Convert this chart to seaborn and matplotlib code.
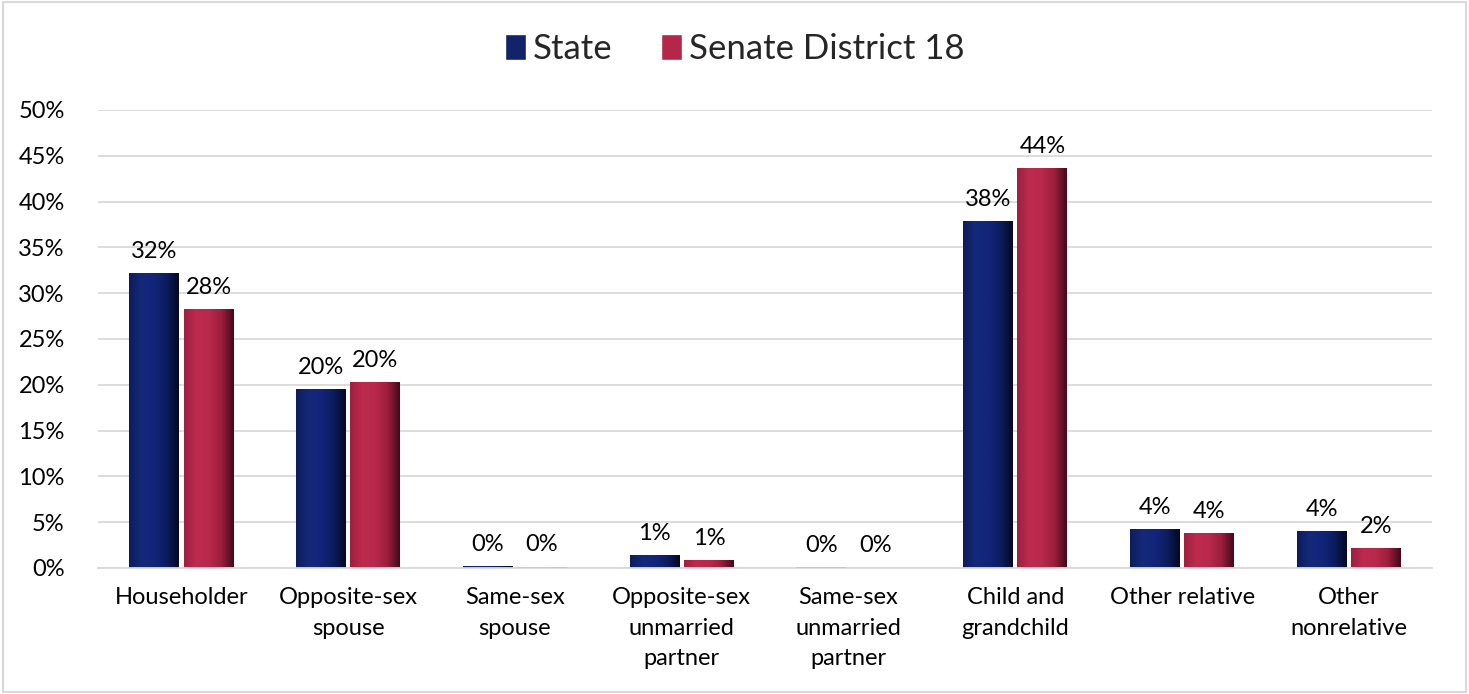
import numpy as np
import pandas as pd
import matplotlib
matplotlib.use("Agg")
import matplotlib.pyplot as plt
import seaborn as sns
from matplotlib.patches import Rectangle
from matplotlib.colors import LinearSegmentedColormap

categories = ["Householder", "Opposite-sex\nspouse", "Same-sex\nspouse",
              "Opposite-sex\nunmarried\npartner", "Same-sex\nunmarried\npartner",
              "Child and\ngrandchild", "Other relative", "Other\nnonrelative"]
state = [0.322, 0.195, 0.002, 0.014, 0.001, 0.379, 0.0425, 0.040]
senate = [0.283, 0.203, 0.0015, 0.009, 0.0005, 0.437, 0.038, 0.022]
series_names = ["State", "Senate District 18"]
labels_state = ["32%", "20%", "0%", "1%", "0%", "38%", "4%", "4%"]
labels_senate = ["28%", "20%", "0%", "1%", "0%", "44%", "4%", "2%"]
yticks = [0, 0.05, 0.10, 0.15, 0.20, 0.25, 0.30, 0.35, 0.40, 0.45, 0.50]

df = pd.DataFrame({
    "category": categories * 2,
    "value": state + senate,
    "series": [series_names[0]] * len(categories) + [series_names[1]] * len(categories),
})

sns.set_theme(style="white")
plt.rcParams["font.family"] = ["Lato", "DejaVu Sans"]

fig = plt.figure(figsize=(14.69, 6.94), dpi=100)
ax = fig.add_axes([0.0667, 0.1816, 0.975 - 0.0667, 0.8415 - 0.1816])

colors = {"State": "#12236a", "Senate District 18": "#b5264a"}
sns.barplot(data=df, x="category", y="value", hue="series", palette=colors,
            width=0.65, gap=0.08, ax=ax, legend=False, saturation=1,
            edgecolor="none")

# gradient shading for 3D-like bars
grad_cmaps = {
    "State": LinearSegmentedColormap.from_list("s", ["#0d1c5c", "#15297a", "#12257a", "#0c1d5e", "#040926"]),
    "Senate District 18": LinearSegmentedColormap.from_list("d", ["#9e2040", "#bd2b4d", "#b8294b", "#9d1f3d", "#45091a"]),
}
grad = np.linspace(0, 1, 64).reshape(1, -1)
for container, name in zip(ax.containers, series_names):
    for patch in container:
        x0, y0 = patch.get_x(), patch.get_y()
        w, h = patch.get_width(), patch.get_height()
        if h <= 0:
            continue
        im = ax.imshow(grad, cmap=grad_cmaps[name], aspect="auto",
                       extent=[x0, x0 + w, y0, y0 + h], zorder=patch.get_zorder() + 0.1)
        im.set_clip_path(patch)

ax.set_xlim(-0.5, len(categories) - 0.5)
ax.set_ylim(0, 0.5)
ax.set_yticks(yticks)
ax.set_yticklabels([f"{int(round(t*100))}%" for t in yticks], fontsize=17)
ax.yaxis.grid(True, color="#d9d9d9", linewidth=1.3)
ax.set_axisbelow(True)
for s in ["top", "right", "left"]:
    ax.spines[s].set_visible(False)
ax.spines["bottom"].set_color("#d9d9d9")
ax.spines["bottom"].set_linewidth(1.3)
ax.tick_params(axis="y", length=0, pad=24, labelcolor="black")
ax.tick_params(axis="x", length=0, pad=14, labelcolor="black")
ax.set_xticks(range(len(categories)))
ax.set_xticklabels(categories, fontsize=17, linespacing=1.55, va="top")
ax.set_xlabel("")
ax.set_ylabel("")

for container, lbls in zip(ax.containers, [labels_state, labels_senate]):
    ax.bar_label(container, labels=lbls, padding=8, fontsize=17, color="black")

# legend
handles = [Rectangle((0, 0), 1, 1, facecolor=colors[n]) for n in series_names]
fig.legend(handles, series_names, loc="center", bbox_to_anchor=(0.5, 0.929),
           ncol=2, frameon=False, fontsize=25, handlelength=0.6, handleheight=0.8,
           handletextpad=0.2, columnspacing=1.4)

# outer border
fig.patches.append(Rectangle((0.002, 0.003), 0.996, 0.994, transform=fig.transFigure,
                             fill=False, edgecolor="#d9d9d9", linewidth=1.5))

fig.savefig("out.png", dpi=100, facecolor="white")
